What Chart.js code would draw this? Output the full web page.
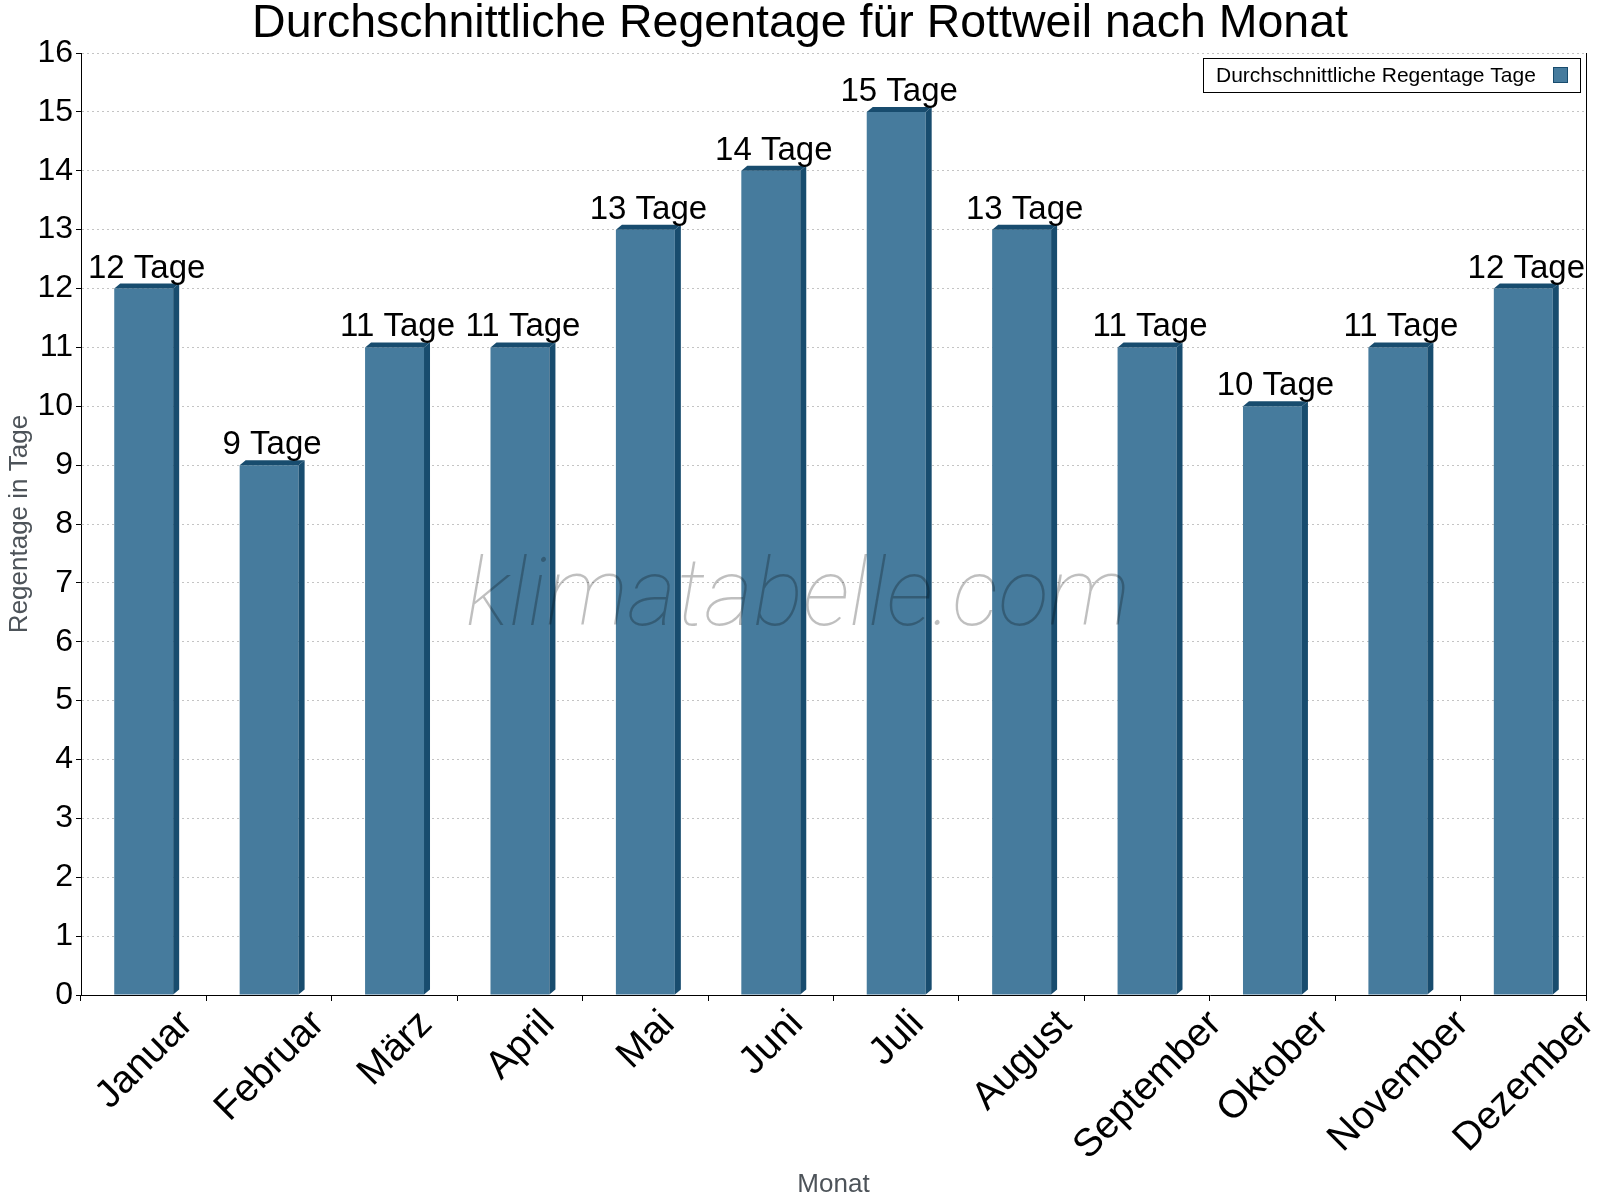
<!DOCTYPE html>
<html>
<head>
<meta charset="utf-8">
<script src="https://cdn.jsdelivr.net/npm/chart.js@4.4.1/dist/chart.umd.min.js"></script>
<style>
  html, body { margin: 0; padding: 0; background: #ffffff; }
  #wrap { width: 1600px; height: 1200px; }
</style>
</head>
<body>
<div id="wrap"><canvas id="c" width="1600" height="1200"></canvas></div>
<script>
// ---- data ----
const months = ['Januar', 'Februar', 'März', 'April', 'Mai', 'Juni', 'Juli', 'August', 'September', 'Oktober', 'November', 'Dezember'];
const rainDays = [12, 9, 11, 11, 13, 14, 15, 13, 11, 10, 11, 12];
const seriesLabel = 'Durchschnittliche Regentage Tage';
const valueUnit = 'Tage';
const chartTitle = 'Durchschnittliche Regentage für Rottweil nach Monat';
const xTitle = 'Monat';
const yTitle = 'Regentage in Tage';
const watermarkText = 'klimatabelle.com';
const yMin = 0, yMax = 16, yStep = 1;

// ---- styles ----
const FONT = "'Liberation Sans', Arial, sans-serif";
const FRONT = '#467b9d';
const DARK = '#184c6e';
const DEPTH_X = 6, DEPTH_Y = 5;
const XLABEL_SIZE = 39;

const bar3d = {
  id: 'bar3d',
  afterDatasetsDraw(chart) {
    const ctx = chart.ctx;
    const meta = chart.getDatasetMeta(0);
    ctx.save();
    meta.data.forEach((bar, i) => {
      const p = bar.getProps(['x', 'y', 'base', 'width'], true);
      const l = p.x - p.width / 2, r = p.x + p.width / 2;
      ctx.fillStyle = DARK;
      ctx.beginPath();
      ctx.moveTo(r, p.y);
      ctx.lineTo(r + DEPTH_X, p.y - DEPTH_Y);
      ctx.lineTo(r + DEPTH_X, p.base - DEPTH_Y);
      ctx.lineTo(r, p.base);
      ctx.closePath();
      ctx.fill();
      ctx.beginPath();
      ctx.moveTo(l, p.y);
      ctx.lineTo(l + DEPTH_X, p.y - DEPTH_Y);
      ctx.lineTo(r + DEPTH_X, p.y - DEPTH_Y);
      ctx.lineTo(r, p.y);
      ctx.closePath();
      ctx.fill();
      ctx.fillStyle = '#000';
      ctx.font = '33px ' + FONT;
      ctx.textAlign = 'center';
      ctx.textBaseline = 'alphabetic';
      ctx.fillText(rainDays[i] + ' ' + valueUnit, p.x + DEPTH_X / 2, p.y - 11);
    });
    ctx.font = "italic 100 94px Roboto, 'DejaVu Sans', sans-serif";
    ctx.fillStyle = 'rgba(0,0,0,0.25)';
    ctx.textAlign = 'center';
    ctx.textBaseline = 'alphabetic';
    ctx.fillText(watermarkText, 798, 625);
    ctx.restore();
  },
  afterDraw(chart) {
    const ctx = chart.ctx;
    ctx.save();
    // rotated category labels, centred on each tick
    const xs = chart.scales.x;
    const axisBottom = xs.top;
    ctx.font = XLABEL_SIZE + 'px ' + FONT;
    ctx.fillStyle = '#000';
    ctx.textAlign = 'center';
    ctx.textBaseline = 'middle';
    months.forEach((m, i) => {
      const cx = xs.getPixelForTick(i) + 1;
      const w = ctx.measureText(m).width;
      const cy = axisBottom + 23 + 0.354 * w;
      ctx.save();
      ctx.translate(cx, cy);
      ctx.rotate(-Math.PI / 4);
      ctx.fillText(m, 0, 0);
      ctx.restore();
    });
    // legend box
    const bx = 1203.5, by = 58.5, bw = 377, bh = 34;
    ctx.fillStyle = '#fff';
    ctx.fillRect(bx, by, bw, bh);
    ctx.strokeStyle = '#000';
    ctx.lineWidth = 1;
    ctx.strokeRect(bx, by, bw, bh);
    ctx.fillStyle = '#000';
    ctx.font = '21px ' + FONT;
    ctx.textAlign = 'left';
    ctx.textBaseline = 'alphabetic';
    ctx.fillText(chart.data.datasets[0].label, 1216, 82);
    ctx.fillStyle = FRONT;
    ctx.fillRect(1553.5, 67.5, 14, 15);
    ctx.strokeStyle = DARK;
    ctx.strokeRect(1553.5, 67.5, 14, 15);
    ctx.restore();
  }
};

new Chart(document.getElementById('c'), {
  type: 'bar',
  data: {
    labels: months,
    datasets: [{
      label: seriesLabel,
      data: rainDays,
      backgroundColor: FRONT,
      borderWidth: 0,
      barPercentage: 0.47,
      categoryPercentage: 1.0
    }]
  },
  options: {
    responsive: false,
    animation: false,
    devicePixelRatio: 1,
    layout: { padding: 0 },
    plugins: {
      legend: { display: false },
      tooltip: { enabled: false },
      title: {
        display: true,
        text: chartTitle,
        color: '#000',
        font: { family: FONT, size: 46.5, weight: 'normal', lineHeight: 43 / 46.5 },
        padding: { top: 3, bottom: 7 }
      }
    },
    scales: {
      x: {
        type: 'category',
        grid: { display: true, drawOnChartArea: false, drawTicks: true, tickLength: 6, tickColor: '#000', offset: true },
        border: { display: true, color: '#000', width: 1 },
        ticks: { display: false, autoSkip: false },
        title: {
          display: true, text: xTitle, color: '#4d5359',
          font: { family: FONT, size: 26 },
          padding: { top: 2, bottom: 0 }
        },
        afterFit: (s) => { s.height = 205; }
      },
      y: {
        type: 'linear',
        position: 'left',
        min: yMin, max: yMax,
        grid: {
          color: (c) => (c.tick && c.tick.value === 0) ? 'rgba(0,0,0,0)' : '#c4c4c4',
          lineWidth: 1,
          tickColor: '#000', tickLength: 5, drawTicks: true
        },
        border: { display: true, color: '#000', width: 1, dash: [2, 3] },
        ticks: {
          stepSize: yStep, autoSkip: false, color: '#000',
          font: { family: FONT, size: 32 },
          padding: 3
        },
        title: {
          display: true, text: yTitle, color: '#4d5359',
          font: { family: FONT, size: 26 },
          padding: { top: 4, bottom: 0 }
        },
        afterFit: (s) => { s.width = 81; }
      },
      y2: {
        type: 'linear',
        position: 'right',
        min: yMin, max: yMax,
        grid: { display: false, drawOnChartArea: false, drawTicks: false },
        border: { display: true, color: '#000', width: 1 },
        ticks: { display: false },
        afterFit: (s) => { s.width = 14; }
      }
    }
  },
  plugins: [bar3d]
});
</script>
</body>
</html>
